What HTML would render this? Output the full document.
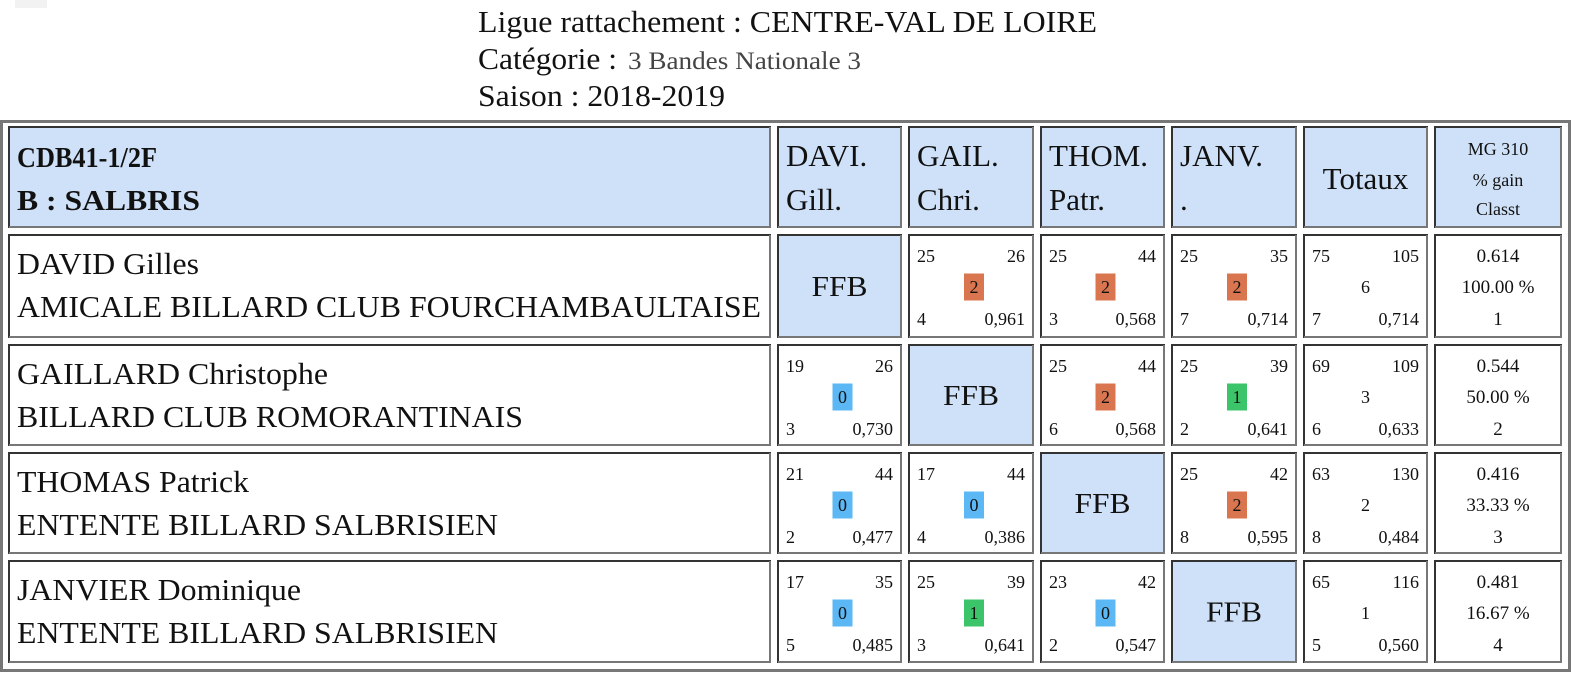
<!DOCTYPE html>
<html><head><meta charset="utf-8">
<style>
html,body{margin:0;padding:0;background:#fff;width:1572px;height:673px;overflow:hidden}
svg{display:block}
text{font-family:"Liberation Serif",serif;fill:#111}
</style></head>
<body>
<svg id="s" width="1572" height="673" xmlns="http://www.w3.org/2000/svg">
<rect x="15" y="0" width="32" height="8" fill="#f2f2f2"/>
<text x="478" y="32" font-size="31" textLength="619" lengthAdjust="spacingAndGlyphs">Ligue rattachement : CENTRE-VAL DE LOIRE</text>
<text x="478" y="69" font-size="31" textLength="139" lengthAdjust="spacingAndGlyphs">Catégorie :</text>
<text x="628" y="69" font-size="25" fill="#444" style="fill:#444" textLength="233" lengthAdjust="spacingAndGlyphs">3 Bandes Nationale 3</text>
<text x="478" y="106" font-size="31" textLength="247" lengthAdjust="spacingAndGlyphs">Saison : 2018-2019</text>
<rect x="1.5" y="121.5" width="1568" height="549" fill="none" stroke="#777" stroke-width="3"/>
</svg>
<script>
const players = ["DAVID Gilles","GAILLARD Christophe","THOMAS Patrick","JANVIER Dominique"];
const clubs = ["AMICALE BILLARD CLUB FOURCHAMBAULTAISE","BILLARD CLUB ROMORANTINAIS","ENTENTE BILLARD SALBRISIEN","ENTENTE BILLARD SALBRISIEN"];
const headTop = ["DAVI.","GAIL.","THOM.","JANV."];
const headBot = ["Gill.","Chri.","Patr.","."];
// match cells: [points, reprises, matchPoints, serie, moyenne]
const matches = [
 [null,[25,26,2,4,"0,961"],[25,44,2,3,"0,568"],[25,35,2,7,"0,714"]],
 [[19,26,0,3,"0,730"],null,[25,44,2,6,"0,568"],[25,39,1,2,"0,641"]],
 [[21,44,0,2,"0,477"],[17,44,0,4,"0,386"],null,[25,42,2,8,"0,595"]],
 [[17,35,0,5,"0,485"],[25,39,1,3,"0,641"],[23,42,0,2,"0,547"],null]
];
const totals = [[75,105,6,7,"0,714"],[69,109,3,6,"0,633"],[63,130,2,8,"0,484"],[65,116,1,5,"0,560"]];
const mg = ["0.614","0.544","0.416","0.481"];
const gain = ["100.00 %","50.00 %","33.33 %","16.67 %"];
const classt = ["1","2","3","4"];

const svg = document.getElementById('s');
const NS = "http://www.w3.org/2000/svg";
const colX = [8,777,908,1040,1171,1303,1434];
const colW = [763,125,126,125,126,125,128];
const rowY = [126,234,344,452,560];
const rowH = [102,104,102,102,103];
const nameEnd = [199,328,249,301];
const clubEnd = [761,523,498,498];
const badgeColor = {0:"#5bb8f5",1:"#3cc46a",2:"#d9764f"};
function mk(tag, attrs, txt){
  const e = document.createElementNS(NS, tag);
  for (const k in attrs) e.setAttribute(k, attrs[k]);
  if (txt !== undefined) e.textContent = txt;
  svg.appendChild(e);
  return e;
}
function cell(c, r, fill, name){
  const x=colX[c], y=rowY[r], w=colW[c], h=rowH[r];
  const g = mk('rect',{x:x+1,y:y+1,width:w-2,height:h-2,fill:fill});
  
  
  mk('path',{d:`M${x+1} ${y+h} V${y+1} H${x+w}`,stroke:"#333",'stroke-width':2,fill:"none"});
  mk('path',{d:`M${x+w-1} ${y+1} V${y+h-1} H${x+1}`,stroke:"#777",'stroke-width':2,fill:"none"});
}
function txt(x,y,s,str,anchor,name,extra){
  const a = {x:x,y:y,'font-size':s,'text-anchor':anchor||'start'};
  if (extra) Object.assign(a, extra);
  const t = mk('text',a,str);
  
  
  return t;
}
const BLUE = "#cfe1f8";
const SM = 18;
// header
cell(0,0,BLUE,'header-team');
txt(17,167,28,"CDB41-1/2F",'start','team-code',{'font-weight':'bold',textLength:140,lengthAdjust:'spacingAndGlyphs'});
txt(17,210,28,"B : SALBRIS",'start','team-name',{'font-weight':'bold',textLength:183,lengthAdjust:'spacingAndGlyphs'});
for (let i=0;i<4;i++){
  cell(i+1,0,BLUE,'header-player-'+(i+1));
  txt(colX[i+1]+9,166,31,headTop[i],'start','header-top-'+(i+1));
  txt(colX[i+1]+9,210,31,headBot[i],'start','header-bottom-'+(i+1));
}
cell(5,0,BLUE,'header-totals');
txt(colX[5]+colW[5]/2,189,31,"Totaux",'middle','totals-title');
cell(6,0,BLUE,'header-mg');
const cx6 = colX[6]+colW[6]/2;
txt(cx6,155,18,"MG 310",'middle','mg-title');
txt(cx6,186,18,"% gain",'middle','gain-title');
txt(cx6,215,18,"Classt",'middle','classt-title');

function smallCell(c,r,d,badge,name){
  const x=colX[c], y=rowY[r], w=colW[c];
  txt(x+9,y+28,SM,String(d[0]),'start',name+'-points');
  txt(x+w-9,y+28,SM,String(d[1]),'end',name+'-reprises');
  txt(x+9,y+91,SM,String(d[3]),'start',name+'-serie');
  txt(x+w-9,y+91,SM,String(d[4]),'end',name+'-moyenne');
  const cx = x+w/2+3, cy = y+53;
  if (badge){
    const b = mk('rect',{x:cx-10,y:cy-13.5,width:20,height:27,fill:badgeColor[d[2]]});
    
    
    txt(cx,cy+6,SM,String(d[2]),'middle',name+'-match-points');
  } else {
    txt(x+w/2,cy+6,SM,String(d[2]),'middle',name+'-match-points');
  }
}
for (let r=0;r<4;r++){
  const ry = rowY[r+1];
  cell(0,r+1,"#fff",'player-cell-'+(r+1));
  txt(17,ry+40,31,players[r],'start','player-name-'+(r+1),{textLength:nameEnd[r]-17,lengthAdjust:'spacingAndGlyphs'});
  txt(17,ry+83,31,clubs[r],'start','club-name-'+(r+1),{textLength:clubEnd[r]-17,lengthAdjust:'spacingAndGlyphs'});
  for (let c=0;c<4;c++){
    const d = matches[r][c];
    if (!d){
      cell(c+1,r+1,BLUE,'self-cell-'+(r+1));
      txt(colX[c+1]+colW[c+1]/2,ry+rowH[r+1]/2+10,29,"FFB",'middle','ffb-label-'+(r+1),{textLength:56,lengthAdjust:'spacingAndGlyphs'});
    } else {
      cell(c+1,r+1,"#fff",'match-cell-'+(r+1)+'-'+(c+1));
      smallCell(c+1,r+1,d,true,'match-'+(r+1)+'-'+(c+1));
    }
  }
  cell(5,r+1,"#fff",'totals-cell-'+(r+1));
  smallCell(5,r+1,totals[r],false,'totals-'+(r+1));
  cell(6,r+1,"#fff",'mg-cell-'+(r+1));
  txt(cx6,ry+28,19,mg[r],'middle','mg-value-'+(r+1));
  txt(cx6,ry+59,19,gain[r],'middle','gain-value-'+(r+1));
  txt(cx6,ry+91,19,classt[r],'middle','classt-value-'+(r+1));
}
</script>
</body></html>
